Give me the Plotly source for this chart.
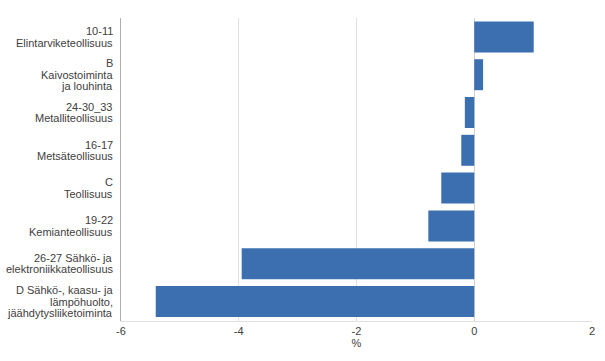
import plotly.graph_objects as go

categories = [
    "10-11<br>Elintarviketeollisuus",
    "B<br>Kaivostoiminta<br>ja louhinta",
    "24-30_33<br>Metalliteollisuus",
    "16-17<br>Metsäteollisuus",
    "C<br>Teollisuus",
    "19-22<br>Kemianteollisuus",
    "26-27 Sähkö- ja<br>elektroniikkateollisuus",
    "D Sähkö-, kaasu- ja<br>lämpöhuolto,<br>jäähdytysliiketoiminta",
]
values = [1.01, 0.15, -0.16, -0.22, -0.56, -0.78, -3.95, -5.41]
x_ticks = [-6, -4, -2, 0, 2]

fig = go.Figure(go.Bar(
    x=values, y=categories, orientation="h",
    marker=dict(color="#3b6fb0", line=dict(width=0)),
))

LINE_H = 11.5
for cat in categories:
    lines = cat.split("<br>")
    n = len(lines)
    for i, ln in enumerate(lines):
        off = ((n - 1) / 2 - i) * LINE_H
        fig.add_annotation(
            xref="paper", yref="y", x=0, y=cat, text=ln,
            xanchor="right", yanchor="middle", xshift=-6, yshift=off,
            showarrow=False, align="right",
            font=dict(family="Liberation Sans, Arial, sans-serif", size=11, color="#404040"),
        )

fig.update_layout(
    width=605, height=361,
    margin=dict(l=121, r=13, t=18, b=40, autoexpand=False),
    paper_bgcolor="white", plot_bgcolor="white",
    bargap=0.18,
    showlegend=False,
    font=dict(family="Liberation Sans, Arial, sans-serif", size=11, color="#404040"),
)
fig.update_xaxes(
    range=[-6, 2], tickvals=x_ticks, ticktext=[str(t) for t in x_ticks],
    showgrid=True, gridcolor="#e0e0e0", gridwidth=1,
    zeroline=True, zerolinecolor="#d0d0d0", zerolinewidth=1,
    showline=True, linecolor="#e0e0e0", linewidth=1,
    title=dict(text="%", standoff=2, font=dict(size=11)),
    ticks="", ticklen=0, ticklabelstandoff=0,
)
fig.update_yaxes(
    autorange="reversed", showticklabels=False, automargin=False,
    showline=True, linecolor="#b0b0b0", linewidth=1,
    showgrid=False, ticks="",
)
fig.write_html("out.html")
